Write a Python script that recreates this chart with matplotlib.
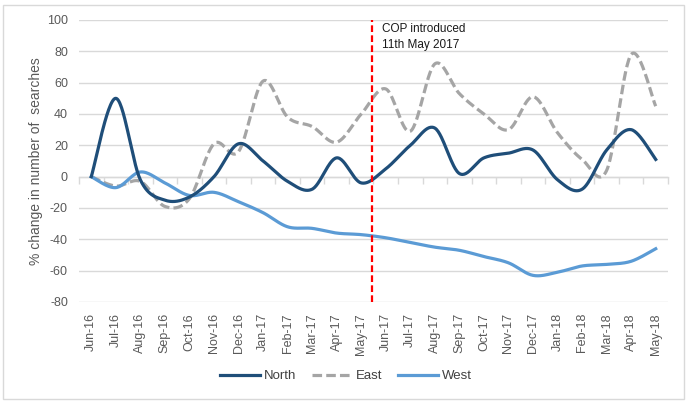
import numpy as np
import matplotlib
matplotlib.use("Agg")
import matplotlib.pyplot as plt
from matplotlib.patches import Rectangle

plt.rcParams['font.family'] = ['Liberation Sans', 'DejaVu Sans']
plt.rcParams['axes.unicode_minus'] = False

months = ["Jun-16", "Jul-16", "Aug-16", "Sep-16", "Oct-16", "Nov-16", "Dec-16",
          "Jan-17", "Feb-17", "Mar-17", "Apr-17", "May-17", "Jun-17", "Jul-17",
          "Aug-17", "Sep-17", "Oct-17", "Nov-17", "Dec-17", "Jan-18", "Feb-18",
          "Mar-18", "Apr-18", "May-18"]
north = [0, 50, -2, -15, -13, 0, 21, 10, -3, -8, 12, -4, 5, 20, 31, 2, 12, 15, 17, -2, -8, 17, 30, 11]
east = [0, -6, -3, -19, -14, 21, 16, 61, 38, 32, 22, 40, 56, 29, 72, 53, 40, 30, 51, 28, 11, 4, 78, 45]
west = [0, -7, 3, -4, -12, -10, -16, -23, -32, -33, -36, -37, -39, -42, -45, -47, -51, -55, -63, -61, -57, -56, -54, -46]
cop_position = 11.45
cop_label = "COP introduced\n11th May 2017"


def smooth(y, n=30):
    y = np.asarray(y, dtype=float)
    x = np.arange(len(y), dtype=float)
    xs, ys = [], []
    for i in range(len(y) - 1):
        p0 = np.array([x[i], y[i]])
        p3 = np.array([x[i + 1], y[i + 1]])
        pm = np.array([x[max(i - 1, 0)], y[max(i - 1, 0)]])
        pp = np.array([x[min(i + 2, len(y) - 1)], y[min(i + 2, len(y) - 1)]])
        p1 = p0 + (p3 - pm) / 6.0
        p2 = p3 - (pp - p0) / 6.0
        t = np.linspace(0, 1, n, endpoint=(i == len(y) - 2))[:, None]
        pts = ((1 - t) ** 3) * p0 + 3 * ((1 - t) ** 2) * t * p1 + 3 * (1 - t) * t ** 2 * p2 + t ** 3 * p3
        xs.append(pts[:, 0]); ys.append(pts[:, 1])
    return np.concatenate(xs), np.concatenate(ys)


fig = plt.figure(figsize=(6.89, 4.03), dpi=100)
fig.patches.append(Rectangle((3 / 689, 4 / 403), 681 / 689, 394 / 403, transform=fig.transFigure,
                             fill=False, edgecolor='#D9D9D9', linewidth=1.0))
ax = fig.add_axes([79 / 689, 1 - 302 / 403, 589 / 689, 282 / 403])

ax.set_ylim(-80, 100)
ax.set_xlim(-0.5, len(months) - 0.5)
ax.set_yticks(np.arange(-80, 101, 20))
ax.grid(axis='y', color='#D9D9D9', linewidth=1.0)
ax.set_axisbelow(True)
for s in ['top', 'right', 'left']:
    ax.spines[s].set_visible(False)
ax.spines['bottom'].set_position(('data', 0))
ax.spines['bottom'].set_color('#D9D9D9')
ax.spines['bottom'].set_linewidth(1.0)
ax.tick_params(axis='y', length=0, labelsize=9, labelcolor='#595959', pad=8)
ax.set_xticks(np.arange(len(months)))
ax.set_xticks(np.arange(len(months) + 1) - 0.5, minor=True)
ax.tick_params(axis='x', which='major', length=0, labelbottom=False)
ax.tick_params(axis='x', which='minor', length=5, color='#D9D9D9', width=1.0)

sec = ax.secondary_xaxis(0)
sec.set_xticks(np.arange(len(months)), labels=months, rotation=90)
sec.tick_params(axis='x', length=0, labelsize=9, labelcolor='#595959', pad=8)
sec.spines['bottom'].set_visible(False)

xn, yn = smooth(north)
xe, ye = smooth(east)
xw, yw = smooth(west)
ax.plot(xe, ye, color='#A5A5A5', linewidth=2.3, linestyle=(0, (3.0, 1.3)), label='East', zorder=3)
ax.plot(xw, yw, color='#5B9BD5', linewidth=2.3, label='West', zorder=3)
ax.plot(xn, yn, color='#1F4E79', linewidth=2.3, label='North', zorder=4)

ax.axvline(cop_position, color='#FF0000', linewidth=1.6, linestyle=(0, (3, 1.5)), zorder=5)
ax.text(cop_position + 0.4, 98, cop_label, fontsize=8.5, color='#1a1a1a', va='top', ha='left',
        linespacing=1.4)

ax.set_ylabel("% change in number of  searches", fontsize=10, color='#595959', labelpad=3)

handles, labels = ax.get_legend_handles_labels()
order = [labels.index('North'), labels.index('East'), labels.index('West')]
leg = fig.legend([handles[i] for i in order], [labels[i] for i in order], loc='center',
                 bbox_to_anchor=(346 / 689, 1 - 376 / 403), ncol=3, frameon=False, fontsize=9.5,
                 handlelength=3.0, handletextpad=0.3, columnspacing=1.2)
for t in leg.get_texts():
    t.set_color('#404040')

fig.savefig("out.png", dpi=100)
